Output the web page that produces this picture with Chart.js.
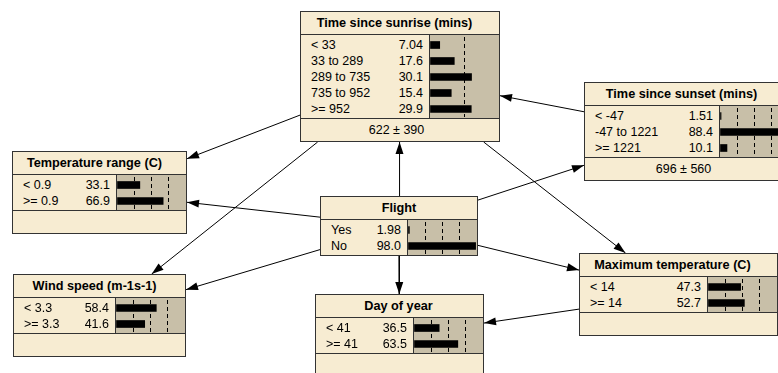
<!DOCTYPE html>
<html>
<head>
<meta charset="utf-8">
<script src="https://cdn.jsdelivr.net/npm/chart.js@4/dist/chart.umd.min.js"></script>
<style>
  html, body { margin: 0; padding: 0; background: #fff; overflow: hidden; }
  #stage { position: relative; width: 778px; height: 373px; overflow: hidden; background: #fff; }
  #links { position: absolute; left: 0; top: 0; }
  .node {
    position: absolute; box-sizing: border-box; border: 1px solid #333;
    background: #f7ecd2; font-family: "Liberation Sans", Arial, sans-serif; color: #000;
  }
  .node .title {
    height: 22px; line-height: 22px; border-bottom: 1px solid #333;
    font-weight: bold; font-size: 12.7px; text-align: center; white-space: nowrap;
  }
  .node .states { position: relative; }
  .node .states.sep { border-bottom: 1px solid #333; }
  .node .rows { position: absolute; left: 0; top: 2px; }
  .node .row { position: relative; height: 16px; line-height: 16px; font-size: 12.5px; white-space: nowrap; }
  .node .row .lab { position: absolute; left: 10px; }
  .node .row .val { position: absolute; right: 6px; }
  .node .gauge {
    position: absolute; right: 0; top: 0; bottom: 0; width: 70px; box-sizing: border-box;
    border-left: 1px solid #333; background: #c8bfa8;
  }
  .node .gauge canvas { position: absolute; left: 0; top: 2px; }
  .node .footer { height: 22px; line-height: 22px; font-size: 12.5px; text-align: center; padding-right: 7px; }
</style>
</head>
<body>
<div id="stage">
  <canvas id="links" width="778" height="373"></canvas>
</div>
<script>
// Belief values (percent) for each node's states
const sunriseStates = ['< 33', '33 to 289', '289 to 735', '735 to 952', '>= 952'];
const sunriseBelief = [7.04, 17.6, 30.1, 15.4, 29.9];
const sunriseExpected = [622, 390];

const sunsetStates = ['< -47', '-47 to 1221', '>= 1221'];
const sunsetBelief = [1.51, 88.4, 10.1];
const sunsetExpected = [696, 560];

const tempRangeStates = ['< 0.9', '>= 0.9'];
const tempRangeBelief = [33.1, 66.9];

const flightStates = ['Yes', 'No'];
const flightBelief = [1.98, 98.0];

const windStates = ['< 3.3', '>= 3.3'];
const windBelief = [58.4, 41.6];

const dayStates = ['< 41', '>= 41'];
const dayBelief = [36.5, 63.5];

const maxTempStates = ['< 14', '>= 14'];
const maxTempBelief = [47.3, 52.7];

// Directed links: [parent, child]
const links = [
  ['sunrise', 'tempRange'], ['sunrise', 'wind'], ['sunrise', 'maxTemp'],
  ['sunset', 'sunrise'],
  ['flight', 'sunrise'], ['flight', 'sunset'], ['flight', 'tempRange'],
  ['flight', 'wind'], ['flight', 'day'], ['flight', 'maxTemp'],
  ['maxTemp', 'day']
];

const nodes = {
  sunrise:   { title: 'Time since sunrise (mins)', states: sunriseStates, belief: sunriseBelief, expected: sunriseExpected },
  sunset:    { title: 'Time since sunset (mins)', states: sunsetStates, belief: sunsetBelief, expected: sunsetExpected },
  tempRange: { title: 'Temperature range (C)', states: tempRangeStates, belief: tempRangeBelief },
  flight:    { title: 'Flight', states: flightStates, belief: flightBelief, noFooter: true },
  wind:      { title: 'Wind speed (m-1s-1)', states: windStates, belief: windBelief },
  day:       { title: 'Day of year', states: dayStates, belief: dayBelief },
  maxTemp:   { title: 'Maximum temperature (C)', states: maxTempStates, belief: maxTempBelief }
};

// Box placement on the page
const layout = {
  sunrise:   { left: 300, top: 11,  width: 200, titleShift: -5.5 },
  sunset:    { left: 584, top: 82,  width: 206, titleShift: -5.5 },
  tempRange: { left: 12,  top: 151, width: 175, titleShift: -5 },
  flight:    { left: 320, top: 196, width: 158, titleShift: 0 },
  wind:      { left: 13,  top: 274, width: 173, titleShift: -5 },
  day:       { left: 315, top: 294, width: 169, titleShift: -1 },
  maxTemp:   { left: 579, top: 253, width: 199, titleShift: -6 }
};

const ROW = 16;
const GAUGE_W = 70;
const fmt = v => v.toFixed(v < 10 ? 2 : 1);

const stage = document.getElementById('stage');
const rects = {};

Object.keys(nodes).forEach(id => {
  const n = nodes[id], L = layout[id];
  const statesH = ROW * n.states.length + 3;
  const height = 2 + 23 + statesH + (n.noFooter ? 0 : 23);
  rects[id] = { l: L.left, t: L.top, r: L.left + L.width, b: L.top + height };

  const box = document.createElement('div');
  box.className = 'node';
  box.style.left = L.left + 'px';
  box.style.top = L.top + 'px';
  box.style.width = L.width + 'px';
  box.style.height = height + 'px';

  const title = document.createElement('div');
  title.className = 'title';
  title.style.paddingRight = (-2 * L.titleShift) + 'px';
  title.textContent = n.title;
  box.appendChild(title);

  const st = document.createElement('div');
  st.className = 'states' + (n.noFooter ? '' : ' sep');
  st.style.height = statesH + 'px';
  const rows = document.createElement('div');
  rows.className = 'rows';
  rows.style.width = (L.width - 2 - GAUGE_W) + 'px';
  n.states.forEach((s, i) => {
    const r = document.createElement('div');
    r.className = 'row';
    const a = document.createElement('span'); a.className = 'lab'; a.textContent = s;
    const b = document.createElement('span'); b.className = 'val'; b.textContent = fmt(n.belief[i]);
    r.appendChild(a); r.appendChild(b);
    rows.appendChild(r);
  });
  st.appendChild(rows);

  const gauge = document.createElement('div');
  gauge.className = 'gauge';
  const cv = document.createElement('canvas');
  cv.width = GAUGE_W - 1;
  cv.height = ROW * n.states.length;
  cv.style.width = cv.width + 'px';
  cv.style.height = cv.height + 'px';
  gauge.appendChild(cv);
  st.appendChild(gauge);
  box.appendChild(st);

  if (!n.noFooter) {
    const f = document.createElement('div');
    f.className = 'footer';
    f.textContent = n.expected ? (n.expected[0] + ' \u00b1 ' + n.expected[1]) : '';
    box.appendChild(f);
  }
  stage.appendChild(box);

  const scaleMax = Math.max(...n.belief) < 50 ? 50 : 100;
  new Chart(cv, {
    type: 'bar',
    data: {
      labels: n.states,
      datasets: [{ data: n.belief, backgroundColor: '#000', borderWidth: 0, barThickness: 7 }]
    },
    options: {
      indexAxis: 'y',
      responsive: false,
      animation: false,
      devicePixelRatio: 1,
      layout: { padding: 0 },
      plugins: { legend: { display: false }, tooltip: { enabled: false } },
      scales: {
        x: {
          min: 0, max: scaleMax,
          ticks: { display: false, stepSize: 25 },
          grid: {
            drawTicks: false, lineWidth: 1,
            color: c => (c.tick && (c.tick.value === 0 || c.tick.value === scaleMax)) ? 'rgba(0,0,0,0)' : '#000'
          },
          border: { display: false, dash: [4, 3] },
          afterFit: s => { s.height = 0; }
        },
        y: { display: false }
      }
    }
  });
});

// Link segments between box edges, along the line joining box centres
function edgePoints(a, b) {
  const ca = { x: (a.l + a.r) / 2, y: (a.t + a.b) / 2 };
  const cb = { x: (b.l + b.r) / 2, y: (b.t + b.b) / 2 };
  const dx = cb.x - ca.x, dy = cb.y - ca.y;
  const exitT = (rc) => Math.min(
    Math.abs(dx) > 1e-9 ? ((rc.r - rc.l) / 2) / Math.abs(dx) : Infinity,
    Math.abs(dy) > 1e-9 ? ((rc.b - rc.t) / 2) / Math.abs(dy) : Infinity);
  const ta = exitT(a), tb = exitT(b);
  return [
    { x: ca.x + dx * ta, y: ca.y + dy * ta },
    { x: cb.x - dx * tb, y: cb.y - dy * tb }
  ];
}

const arrowHeads = {
  id: 'arrowHeads',
  afterDatasetsDraw(chart) {
    const ctx = chart.ctx;
    ctx.save();
    ctx.fillStyle = '#000';
    chart.data.datasets.forEach((ds, i) => {
      const pts = chart.getDatasetMeta(i).data;
      const p0 = pts[0], p1 = pts[1];
      const dx = p1.x - p0.x, dy = p1.y - p0.y;
      const len = Math.hypot(dx, dy);
      const ux = dx / len, uy = dy / len;
      const hl = 12, hw = 4;
      ctx.beginPath();
      ctx.moveTo(p1.x, p1.y);
      ctx.lineTo(p1.x - ux * hl - uy * hw, p1.y - uy * hl + ux * hw);
      ctx.lineTo(p1.x - ux * hl + uy * hw, p1.y - uy * hl - ux * hw);
      ctx.closePath();
      ctx.fill();
    });
    ctx.restore();
  }
};

new Chart(document.getElementById('links'), {
  type: 'scatter',
  data: {
    datasets: links.map(([from, to]) => ({
      data: edgePoints(rects[from], rects[to]),
      showLine: true,
      borderColor: '#000',
      borderWidth: 1,
      pointRadius: 0
    }))
  },
  options: {
    responsive: false,
    animation: false,
    devicePixelRatio: 1,
    layout: { padding: 0 },
    plugins: { legend: { display: false }, tooltip: { enabled: false } },
    scales: {
      x: { type: 'linear', min: 0, max: 778, display: false },
      y: { type: 'linear', min: 0, max: 373, reverse: true, display: false }
    }
  },
  plugins: [arrowHeads]
});
</script>
</body>
</html>
